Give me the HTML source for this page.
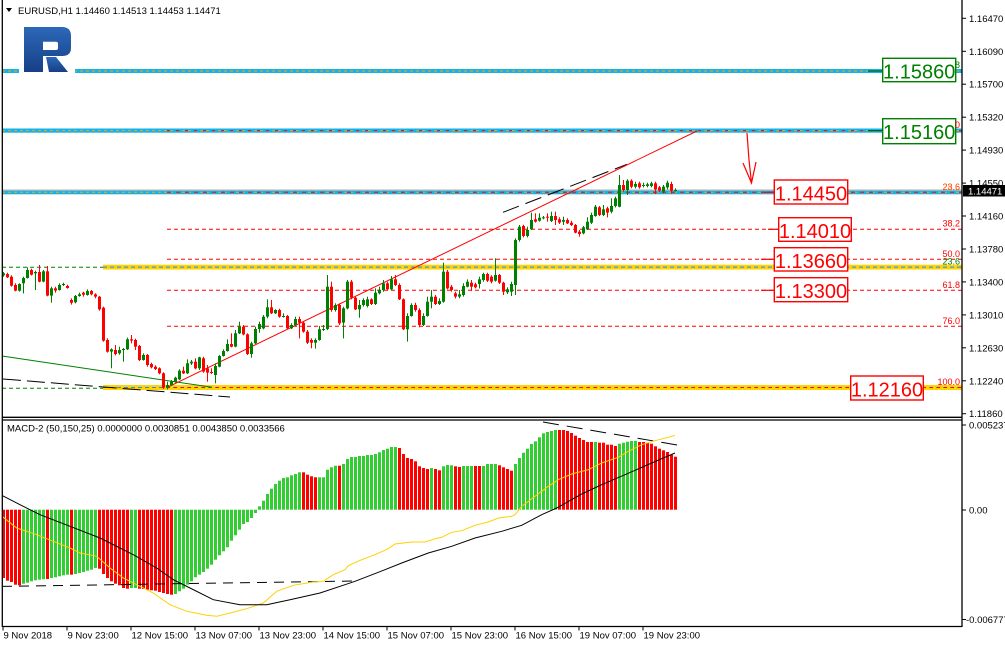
<!DOCTYPE html>
<html><head><meta charset="utf-8">
<style>
html,body{margin:0;padding:0;background:#fff;overflow:hidden;}
svg{display:block;font-family:"Liberation Sans",Arial,sans-serif;}
</style></head><body>
<svg id="c" width="1005" height="647" viewBox="0 0 1005 647" xmlns="http://www.w3.org/2000/svg">
<defs>
<linearGradient id="lg" x1="0" y1="0" x2="0" y2="1">
<stop offset="0" stop-color="#2c68b8"/><stop offset="1" stop-color="#173f86"/>
</linearGradient>
</defs>
<rect width="1005" height="647" fill="#fff"/>

<!-- cyan lines -->
<rect x="2" y="69" width="960" height="4" fill="#12b2ec"/>
<line x1="2" y1="71" x2="962" y2="71" stroke="#ffa500" stroke-width="1" stroke-dasharray="3,3"/>
<rect x="2" y="128.5" width="960" height="4.2" fill="#12b2ec"/>
<line x1="2" y1="130.6" x2="962" y2="130.6" stroke="#ffa500" stroke-width="1" stroke-dasharray="3,3"/>
<line x1="167" y1="130.6" x2="962" y2="130.6" stroke="#ff0000" stroke-width="1" stroke-dasharray="3,6"/>
<rect x="2" y="189.5" width="960" height="1.2" fill="#b0b0b0"/>
<rect x="2" y="190.7" width="960" height="3.6" fill="#12b2ec"/>
<line x1="2" y1="192.3" x2="962" y2="192.3" stroke="#ffa500" stroke-width="1" stroke-dasharray="3,3"/>
<line x1="167" y1="192.3" x2="962" y2="192.3" stroke="#ff0000" stroke-width="1" stroke-dasharray="4,5"/>

<!-- yellow bands -->
<rect x="103" y="264.7" width="859" height="4.8" fill="#ffd200"/>
<line x1="103" y1="267.1" x2="962" y2="267.1" stroke="#1e90ff" stroke-width="1" stroke-dasharray="4,3"/>
<rect x="103" y="385" width="859" height="5" fill="#ffd200"/>
<line x1="103" y1="387.5" x2="962" y2="387.5" stroke="#1e90ff" stroke-width="1" stroke-dasharray="4,3"/>
<line x1="167" y1="387.5" x2="962" y2="387.5" stroke="#ff0000" stroke-width="1" stroke-dasharray="3,4"/>

<!-- green dashed (left) -->
<line x1="2" y1="267.3" x2="103" y2="267.3" stroke="#008000" stroke-width="1" stroke-dasharray="4,3"/>
<line x1="2" y1="388.3" x2="103" y2="388.3" stroke="#008000" stroke-width="1" stroke-dasharray="4,3"/>

<!-- red fib dashed -->
<g stroke="#ff0000" stroke-width="1" stroke-dasharray="4,3">
<line x1="167" y1="229.3" x2="962" y2="229.3"/>
<line x1="167" y1="259.3" x2="962" y2="259.3"/>
<line x1="167" y1="290.3" x2="962" y2="290.3"/>
<line x1="167" y1="326.3" x2="962" y2="326.3"/>
</g>

<!-- trend lines -->
<line x1="2" y1="356" x2="212" y2="387.3" stroke="#008000" stroke-width="1"/>
<line x1="3" y1="379" x2="230" y2="397" stroke="#000" stroke-width="1" stroke-dasharray="18,6"/>
<line x1="503" y1="212.3" x2="627" y2="164.3" stroke="#000" stroke-width="1" stroke-dasharray="17,7"/>
<line x1="167" y1="387.5" x2="697" y2="131" stroke="#ff0000" stroke-width="1"/>

<!-- arrow -->
<polyline points="747,133 749,160 751.5,183" fill="none" stroke="#ff0000" stroke-width="1.2"/>
<polyline points="743,163 751.5,183 756,162" fill="none" stroke="#ff0000" stroke-width="1.2"/>

<g id="candles"></g>

<!-- logo -->
<rect x="19" y="64" width="56" height="11" fill="#fff"/>
<path fill="url(#lg)" fill-rule="evenodd" d="M24,27 L62,27 Q71,27 71,36 L71,48 Q71,56 62,56 L43,56 L43,72 L24,72 Z M43,41.7 L56,41.7 Q58,41.7 58,43.7 L58,48 Q58,50 56,50 L43,50 Z"/>
<polygon fill="url(#lg)" points="46,57 56,57 68,72 49,72"/>

<!-- leader lines -->
<g stroke="#ff0000" stroke-width="1.2">
<line x1="764" y1="192.3" x2="775" y2="192.3"/>
<line x1="768" y1="229.3" x2="779" y2="229.3"/>
<line x1="761" y1="259.3" x2="775" y2="259.3"/>
<line x1="761" y1="290.3" x2="775" y2="290.3"/>
</g>
<line x1="868" y1="71" x2="883" y2="71" stroke="#006400" stroke-width="1.2"/>
<line x1="868" y1="130.6" x2="883" y2="130.6" stroke="#006400" stroke-width="1.2"/>

<!-- label boxes -->
<g font-size="20">
<rect x="882.7" y="58.3" width="73" height="23.4" fill="#fff" stroke="#008000" stroke-width="1.4"/>
<text x="919.2" y="78.5" fill="#008000" text-anchor="middle">1.15860</text>
<rect x="882.7" y="118.7" width="73" height="25" fill="#fff" stroke="#008000" stroke-width="1.4"/>
<text x="919.2" y="139" fill="#008000" text-anchor="middle">1.15160</text>
<rect x="774.3" y="180" width="73.4" height="24" fill="#fff" stroke="#ff0000" stroke-width="1.4"/>
<text x="811" y="200.5" fill="#ff0000" text-anchor="middle">1.14450</text>
<rect x="778.7" y="217.7" width="72.6" height="23.6" fill="#fff" stroke="#ff0000" stroke-width="1.4"/>
<text x="815" y="238" fill="#ff0000" text-anchor="middle">1.14010</text>
<rect x="774.3" y="247.7" width="73.4" height="23.3" fill="#fff" stroke="#ff0000" stroke-width="1.4"/>
<text x="811" y="268" fill="#ff0000" text-anchor="middle">1.13660</text>
<rect x="774.3" y="277.7" width="73.4" height="24" fill="#fff" stroke="#ff0000" stroke-width="1.4"/>
<text x="811" y="298" fill="#ff0000" text-anchor="middle">1.13300</text>
<rect x="850.7" y="376" width="72.6" height="24" fill="#fff" stroke="#ff0000" stroke-width="1.4"/>
<text x="887" y="396.5" fill="#ff0000" text-anchor="middle">1.12160</text>
</g>

<!-- fib level labels -->
<g font-size="9" text-anchor="end">
<text x="960" y="68" fill="#008000">8</text>
<text x="960" y="128" fill="#ff0000">0</text>
<text x="960" y="190" fill="#ff0000">23.6</text>
<text x="960" y="190" fill="#ff8c00" opacity="0.6">28.6</text>
<text x="960" y="226.5" fill="#ff0000">38.2</text>
<text x="960" y="257" fill="#ff0000">50.0</text>
<text x="960" y="264.5" fill="#008000">23.6</text>
<text x="960" y="288" fill="#ff0000">61.8</text>
<text x="960" y="324" fill="#ff0000">76.0</text>
<text x="960" y="385" fill="#ff0000">100.0</text>
</g>

<!-- MACD -->
<g id="hist"></g>
<line x1="2" y1="586.4" x2="355" y2="581" stroke="#000" stroke-width="1" stroke-dasharray="10,7"/>
<line x1="543" y1="422" x2="680" y2="445.5" stroke="#000" stroke-width="1" stroke-dasharray="16,8"/>
<polyline fill="none" stroke="#ffd000" stroke-width="1" points="2,516.3 16.7,528 36.7,534.7 53.3,541.3 70,548 80,553 96.7,556.3 110,568 123.3,578 136.7,584.7 153.3,593 170,604.7 186.7,611.3 206.7,615.3 216.7,616.3 230,613 246.7,608.7 263.3,603 276.7,591.3 293.3,585.3 313.3,582 323.3,581.3 333.3,574.7 345,569.7 348.3,565.7 361.7,559.7 375,554.7 388.3,548.7 395,544 411.7,542 425,542 435,538.7 441.7,537.3 451.7,532.3 461.7,530.7 475,525.3 488.3,522 498.3,518 511.7,516.3 515,514.7 521.7,506.3 535,496.3 548.3,486.3 558.3,479.7 571.7,474 588.3,469.7 601.7,463 618.3,457.3 628.3,451.3 641.7,444.7 655,440.7 668.3,437.3 675,435.3"/>
<polyline fill="none" stroke="#000" stroke-width="1" points="2,495.4 20,504.7 40,514.7 70,526.3 100,538 133.3,554.7 156.7,568 173.3,579.7 190,588 213.3,599.7 240,604.7 266.7,604.7 290,599.7 320,593 345,584.7 355,581.3 385,569.7 401.7,563 428.3,553 451.7,546.3 475,538 501.7,531.3 521.7,525.3 541.7,514.7 556.7,508 581.7,494 601.7,484.7 625,474.7 651.7,463 675,453"/>

<!-- header texts -->
<polygon points="6,8 12,8 9,12" fill="#000"/>
<text x="18" y="14" font-size="9.5" fill="#000">EURUSD,H1  1.14460 1.14513 1.14453 1.14471</text>
<text x="7" y="431.5" font-size="9.5" fill="#000">MACD-2 (50,150,25) 0.0000000 0.0030851 0.0043850 0.0033566</text>

<!-- frame -->
<g stroke="#000" stroke-width="1.3" fill="none">
<line x1="2.3" y1="0" x2="2.3" y2="627"/>
<line x1="962" y1="0" x2="962" y2="627"/>
<line x1="2" y1="417.3" x2="962" y2="417.3"/>
<line x1="2" y1="420" x2="962" y2="420"/>
<line x1="2" y1="626.5" x2="962" y2="626.5"/>
</g>

<g id="axes" font-size="9.5" fill="#000"></g>
</svg>

<script>
(function(){
var A=[
[70,76,'g',66,80],[72,82,'r',68,84],[80,107,'r',76,110],[105,122,'r',100,124],[102,122,'g',100,125],
[84,100,'g',80,130],[60,84,'g',52,86],[60,74,'r',56,76],[66,70,'g',62,120],[66,95,'r',45,97],
[64,95,'g',60,97],[64,137,'r',48,139],[115,137,'g',110,158],[115,122,'r',110,128],[105,120,'g',100,122],
[102,105,'g',98,108],[108,114,'r',104,116],[150,158,'r',145,164],[138,157,'g',135,160],[133,138,'g',128,140],
[128,134,'r',125,140],[123,135,'g',118,137],[123,133,'r',120,136],[133,140,'r',130,145],[140,178,'r',138,182],
[173,272,'r',170,275],[270,305,'r',265,308],[298,305,'g',295,355],[300,312,'r',285,316],[300,310,'g',290,314],
[297,300,'g',294,335],[268,298,'g',263,300],[268,272,'r',255,280],[270,290,'r',266,300],[288,330,'r',285,333],
[315,330,'g',310,332],[315,345,'r',312,350],[342,352,'r',338,355],[350,357,'r',346,360],[355,370,'r',352,373],
[370,413,'r',367,417],[405,413,'g',395,418],[395,405,'g',390,408],[383,395,'g',380,398],[362,388,'g',358,390],
[362,370,'r',350,372],[340,370,'g',328,372],[335,340,'g',330,345],[335,355,'r',325,358],[322,355,'g',320,360],
[325,365,'r',320,368],[355,368,'r',345,395],[366,369,'r',355,372],[348,375,'g',340,400],[318,350,'g',315,352],
[303,318,'g',298,320],[282,303,'g',268,305],[282,290,'r',250,292],[250,290,'g',240,292],[230,250,'g',215,252],
[230,253,'r',225,256],[253,312,'r',250,315],[280,312,'g',275,323],[237,280,'g',230,282],[222,237,'g',215,248],
[200,235,'g',195,238],[172,200,'g',148,205],[172,190,'r',150,192],[180,190,'g',178,192],[180,200,'r',176,203],
[198,200,'g',190,203],[198,235,'r',195,238],[225,235,'g',220,237],[207,225,'g',200,228],[207,218,'r',200,265],
[218,245,'r',215,248],[245,278,'r',240,282],[270,278,'r',265,295],[270,278,'g',265,296],[238,270,'g',228,272],
[237,240,'g',225,243],[110,237,'g',75,240],[110,180,'r',95,185],[165,180,'g',160,185],[165,220,'r',160,225],
[175,218,'g',170,265],[95,175,'g',90,178],[95,143,'r',90,148],[143,178,'r',140,180],[165,178,'g',150,203],
[150,165,'g',145,170],[148,168,'g',140,172],[148,162,'r',145,165],[128,162,'g',115,165],[120,130,'g',110,133],
[100,120,'g',90,125],[100,118,'r',95,120],[88,118,'g',78,120],[88,105,'r',75,108],[105,148,'r',100,150],
[148,238,'r',145,240],[198,238,'g',190,275],[165,198,'g',160,200],[165,180,'r',158,185],[180,225,'r',175,232],
[198,225,'g',190,228],[155,198,'g',140,200],[140,155,'g',120,175],[140,162,'r',135,165],[153,162,'g',145,165],
[65,155,'g',38,158],[65,115,'r',60,118]
];
var B=[
[470,480,'r',465,485],[490,500,'r',485,505],[493,500,'g',480,505],[468,495,'g',460,500],[455,470,'g',448,472],
[458,470,'r',450,483],[463,472,'r',458,475],[448,462,'g',440,475],[432,450,'g',428,455],[432,452,'r',428,456],
[440,455,'r',436,460],[435,452,'g',385,455],[435,458,'r',432,462],[458,485,'r',455,495],[478,487,'g',472,492],
[462,485,'g',455,498],[330,465,'g',325,495],[290,330,'g',285,335],[288,318,'r',284,322],[300,318,'g',290,322],
[270,298,'g',248,300],[268,275,'r',250,278],[263,272,'g',250,275],[262,265,'g',258,268],[260,262,'r',250,275],
[258,273,'g',245,276],[258,270,'r',245,285],[268,278,'r',262,282],[270,275,'g',260,285],[270,280,'r',265,282],
[278,285,'r',272,288],[285,308,'r',282,310],[305,312,'r',300,320],[292,310,'g',288,313],[275,298,'g',262,300],
[255,278,'g',248,282],[230,258,'g',225,260],[232,255,'r',228,258],[238,255,'g',225,258],[235,248,'r',230,262],
[228,245,'g',205,250],[205,228,'g',200,232],[165,230,'g',135,232],[165,180,'r',150,185],[152,180,'g',148,195],
[152,170,'r',148,175],[162,170,'g',155,175],[160,172,'r',155,176],[165,168,'g',158,172],[163,168,'g',158,172],
[160,168,'g',155,172],[160,178,'r',155,192],[172,182,'r',168,186],[170,185,'g',165,190],[158,172,'g',152,178],
[162,182,'r',155,190],[180,182,'g',175,185]
];
var s='';
function add(arr,base,start){
  for(var j=0;j<arr.length;j++){
    var d=arr[j],i=start+j,x=2+4*i;
    var top=base+d[0]/3,bot=base+d[1]/3,hi=base+d[3]/3,lo=base+d[4]/3;
    var col=d[2]=='g'?'#008000':'#ff0000';
    s+='<rect x="'+(x+1)+'" y="'+hi.toFixed(1)+'" width="1" height="'+(lo-hi).toFixed(1)+'" fill="'+col+'"/>';
    s+='<rect x="'+x+'" y="'+top.toFixed(1)+'" width="3" height="'+Math.max(1,bot-top).toFixed(1)+'" fill="'+col+'"/>';
  }
}
add(A,250,0);add(B,130,112);
document.getElementById('candles').innerHTML=s;

var H=[480,'r',488,'r',492,'r',500,'r',502,'r',497,'g',494,'g',490,'g',487,'g',485,'g',
484,'g',483,'r',480,'g',478,'g',475,'g',472,'g',470,'g',470,'r',468,'g',465,'g',
462,'g',458,'g',455,'g',450,'g',452,'r',468,'r',480,'r',490,'r',497,'r',502,'r',
510,'r',512,'r',510,'g',510,'g',512,'r',513,'r',515,'r',517,'r',518,'r',522,'r',
525,'r',528,'r',530,'r',528,'g',520,'g',512,'g',500,'g',490,'g',478,'g',470,'g',
462,'g',452,'g',440,'g',425,'g',412,'g',400,'g',388,'g',368,'g',352,'g',335,'g',
318,'g',312,'g',300,'g',285,'g',265,'g',248,'g',228,'g',212,'g',198,'g',188,'g',
180,'g',178,'g',172,'g',168,'g',163,'g',163,'r',170,'r',175,'r',178,'r',178,'g',
178,'g',155,'g',148,'g',143,'g',143,'r',138,'g',123,'g',117,'g',117,'g',114,'g',
114,'g',111,'g',111,'g',108,'g',103,'g',96,'g',92,'g',87,'g',87,'g',90,'r',
108,'r',120,'r',123,'r',130,'r',145,'r',150,'r',153,'r',150,'g',153,'r',157,'r',
145,'g',141,'g',142,'g',145,'r',147,'r',144,'g',144,'g',144,'g',144,'r',144,'r',
144,'g',138,'g',138,'g',138,'g',142,'r',148,'r',153,'r',158,'r',138,'g',120,'g',
104,'g',92,'g',78,'g',70,'g',58,'g',46,'g',42,'g',39,'g',36,'g',36,'r',
36,'r',39,'r',45,'r',53,'r',60,'r',66,'r',72,'r',72,'r',72,'g',74,'r',
74,'r',80,'r',80,'r',84,'r',77,'g',74,'g',71,'g',69,'g',69,'g',72,'r',
72,'r',74,'r',77,'r',85,'r',92,'r',97,'r',102,'r',110,'r',116,'r'];
var zero=509.7,h='';
for(var k=0;k<H.length/2;k++){
  var y=418+H[2*k]/3,c=H[2*k+1]=='g'?'#32cd32':'#ff0000',x=2+4*k;
  var t=Math.min(y,zero),b=Math.max(y,zero);
  h+='<rect x="'+x+'" y="'+t.toFixed(1)+'" width="3" height="'+(b-t).toFixed(1)+'" fill="'+c+'"/>';
}
document.getElementById('hist').innerHTML=h;

var a='';
var P=['1.16470','1.16090','1.15700','1.15320','1.14930','1.14550','1.14160','1.13780','1.13400','1.13010','1.12630','1.12240','1.11860'];
for(var p=0;p<P.length;p++){
  var yc=18.3+32.95*p;
  a+='<line x1="962" y1="'+yc.toFixed(1)+'" x2="966" y2="'+yc.toFixed(1)+'" stroke="#000" stroke-width="1"/>';
  a+='<text x="969" y="'+(yc+3.5).toFixed(1)+'">'+P[p]+'</text>';
}
a+='<rect x="963" y="185" width="42" height="11.5" fill="#000"/>';
a+='<text x="968" y="194.5" fill="#fff">1.14471</text>';
var M=[[425,'0.0052378',969],[510,'0.00',969],[619.5,'-0.006777',966]];
for(var m=0;m<M.length;m++){
  a+='<line x1="962" y1="'+M[m][0]+'" x2="966" y2="'+M[m][0]+'" stroke="#000" stroke-width="1"/>';
  a+='<text x="'+M[m][2]+'" y="'+(M[m][0]+3.5)+'">'+M[m][1]+'</text>';
}
var T=['9 Nov 2018','9 Nov 23:00','12 Nov 15:00','13 Nov 07:00','13 Nov 23:00','14 Nov 15:00','15 Nov 07:00','15 Nov 23:00','16 Nov 15:00','19 Nov 07:00','19 Nov 23:00'];
for(var q=0;q<T.length;q++){
  var tx=3+64*q;
  a+='<line x1="'+tx+'" y1="626" x2="'+tx+'" y2="630.5" stroke="#000" stroke-width="1"/>';
  a+='<text x="'+(tx+0.5)+'" y="638.5">'+T[q]+'</text>';
}
document.getElementById('axes').innerHTML=a;
})();
</script>
</body></html>
